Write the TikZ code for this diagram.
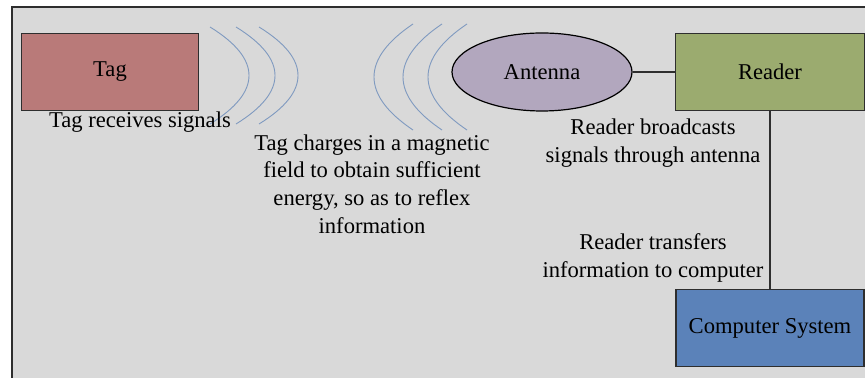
\documentclass[tikz,border=0pt]{standalone}
\usepackage{fontspec}
\setmainfont{Liberation Serif}
\newfontfamily\lbserif{Liberation Serif}
\usepackage{tikz}
\usetikzlibrary{shapes.geometric}
\definecolor{ink}{HTML}{2E2E2E}
\definecolor{panel}{HTML}{D9D9D9}
\definecolor{tagred}{HTML}{B97A79}
\definecolor{antgrey}{HTML}{B2A7BE}
\definecolor{rdgreen}{HTML}{9BAB6F}
\definecolor{pcblue}{HTML}{5B82B9}
\definecolor{wave}{HTML}{7F9AC0}

\begin{document}
\begin{tikzpicture}[x=0.5pt, y=-0.5pt, font=\lbserif\fontsize{11.3}{13.8}\selectfont,
  b/.style={draw=ink, line width=0.6pt, inner sep=0pt, minimum width=#1, minimum height=38.5pt},
  t/.style={align=center, inner sep=0pt},
  w/.style={draw=wave, line width=0.45pt}]
\useasboundingbox (0,0) rectangle (865,378);
\clip (0,0) rectangle (865,378);
\fill[panel, draw=ink, line width=0.6pt] (12,7) rectangle (880,390);
% boxes
\node[b=88.5pt, fill=tagred] (tag) at (110,72) {Tag};
\node[ellipse, draw=black, line width=0.6pt, fill=antgrey, inner sep=0pt,
  minimum width=90pt, minimum height=39pt] (ant) at (542,72) {Antenna};
\node[b=94.5pt, fill=rdgreen] (rdr) at (770,72) {Reader};
\node[b=94pt, fill=pcblue] (pc) at (770,328) {Computer System};
\draw[ink, line width=0.6pt] (ant) -- (rdr);
\draw[ink, line width=0.6pt] (rdr) -- (pc);
% waves
\foreach \x in {210,236,259}
  \draw[w] (\x,27) .. controls (\x+52,59) and (\x+52,92) .. (\x,124);
\foreach \x in {413,442,467}
  \draw[w] (\x,24) .. controls (\x-52,59) and (\x-52,95) .. (\x,130);
% labels
\node[t] (rcv) at (140,122) {Tag receives signals};
\node[t] (chg) at (372,184) {Tag charges in a magnetic\\field to obtain sufficient\\energy, so as to reflex\\information};
\node[t] (bc) at (653,143) {Reader broadcasts\\signals through antenna};
\node[t] (tr) at (653,258) {Reader transfers\\information to computer};
\end{tikzpicture}
\end{document}
